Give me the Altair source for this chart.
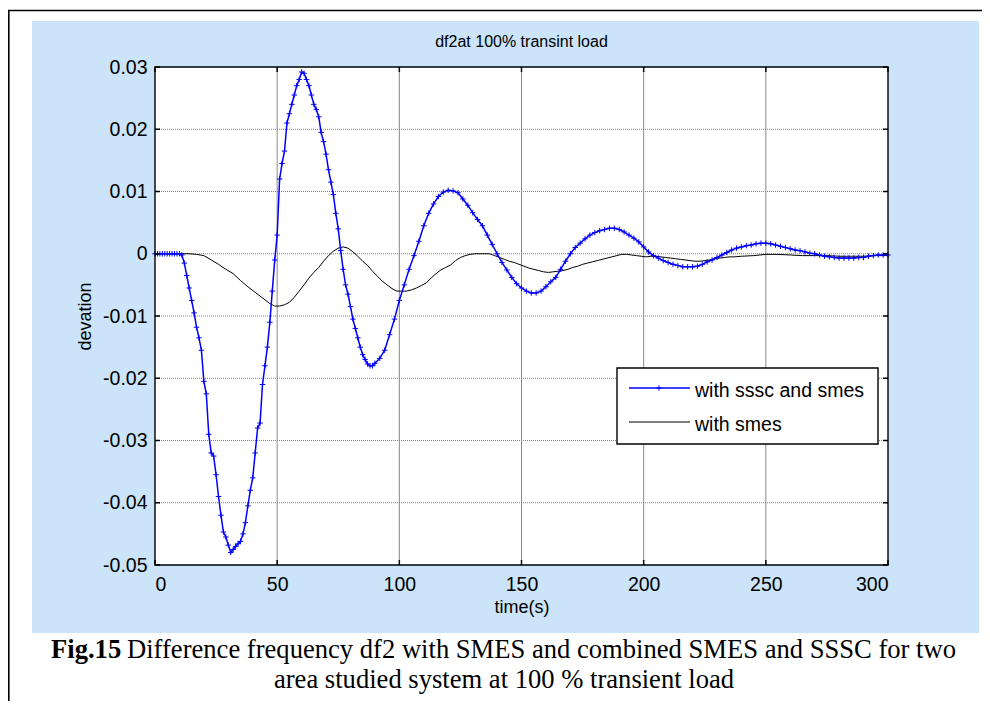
import altair as alt
import pandas as pd

# ---------------- data ----------------
t_blue = [0, 1, 2, 3, 4, 5, 6, 7, 8, 9, 10,
          11, 12, 13, 14, 15, 16, 17, 18, 19, 20,
          21, 22, 23, 24, 25, 26, 27, 28, 29, 30,
          31, 32, 33, 34, 35, 36, 37, 38, 39, 40,
          41, 42, 43, 44, 45, 46, 47, 48, 49, 50,
          51, 52, 53, 54, 55, 56, 57, 58, 59, 60,
          61, 62, 63, 64, 65, 66, 67, 68, 69, 70,
          71, 72, 73, 74, 75, 76, 77, 78, 79, 80,
          81, 82, 83, 84, 85, 86, 87, 88, 89, 90,
          92, 94, 96, 98, 100, 102, 104, 106, 108, 110,
          112, 114, 116, 118, 120, 122, 124, 126, 128, 130,
          132, 134, 136, 138, 140, 142, 144, 146, 148, 150,
          152, 154, 156, 158, 160, 162, 164, 166, 168, 170,
          172, 174, 176, 178, 180, 182, 184, 186, 188, 190,
          192, 194, 196, 198, 200, 202, 204, 206, 208, 210,
          212, 214, 216, 218, 220, 222, 224, 226, 228, 230,
          232, 234, 236, 238, 240, 242, 244, 246, 248, 250,
          252, 254, 256, 258, 260, 262, 264, 266, 268, 270,
          272, 274, 276, 278, 280, 282, 284, 286, 288, 290,
          292, 294, 296, 298, 300]
v_blue = [0, 0, 0, 0, 0, 0, 0, 0, 0, 0, 0,
          -0.0002, -0.0015, -0.0035, -0.0055, -0.0075, -0.0095, -0.0118, -0.0135, -0.0155, -0.0205,
          -0.0225, -0.029, -0.032, -0.0325, -0.0355, -0.039, -0.042, -0.0447, -0.0455, -0.0468,
          -0.048, -0.0475, -0.047, -0.0466, -0.0462, -0.045, -0.0432, -0.0405, -0.038, -0.036,
          -0.032, -0.028, -0.0272, -0.021, -0.018, -0.015, -0.011, -0.006, -0.001, 0.003,
          0.012, 0.0145, 0.0165, 0.021, 0.0225, 0.024, 0.0255, 0.027, 0.028, 0.0292,
          0.029, 0.028, 0.027, 0.0255, 0.024, 0.0232, 0.022, 0.0195, 0.018, 0.016,
          0.0135, 0.0115, 0.0095, 0.0065, 0.004, 0.0005, -0.0025, -0.005, -0.0065, -0.0085,
          -0.0105, -0.012, -0.0135, -0.015, -0.0162, -0.017, -0.0177, -0.018, -0.018, -0.0176,
          -0.0168, -0.0155, -0.013, -0.0105, -0.0075, -0.005, -0.0025, -0.0003, 0.002, 0.0045,
          0.0065, 0.008, 0.0092, 0.0099, 0.0102, 0.0101, 0.0098, 0.0088, 0.0078, 0.0066,
          0.0055, 0.0045, 0.003, 0.0015, 0.0, -0.0014, -0.0026, -0.0038, -0.0048, -0.0055,
          -0.006, -0.0063, -0.0063, -0.006, -0.0053, -0.0045, -0.0038, -0.0025, -0.0012, 0.0,
          0.001, 0.0017, 0.0024, 0.003, 0.0034, 0.0037, 0.0039, 0.0041, 0.0041, 0.0039,
          0.0035, 0.003, 0.0025, 0.0019, 0.0011, 0.0003, -0.0003, -0.0007, -0.0011, -0.0014,
          -0.0017, -0.0019, -0.0021, -0.0021, -0.0021, -0.002, -0.0017, -0.0013, -0.001, -0.0006,
          -0.0002, 0.0002, 0.0006, 0.0009, 0.0011, 0.0013, 0.0014, 0.0016, 0.0017, 0.0017,
          0.0016, 0.0014, 0.0012, 0.001, 0.0008, 0.0006, 0.0005, 0.0003, 0.0001, 0.0,
          -0.0002, -0.0004, -0.0005, -0.0006, -0.0007, -0.0007, -0.0007, -0.0007, -0.0006, -0.0006,
          -0.0004, -0.0003, -0.0002, -0.0002, -0.0002]

t_black = [0, 5, 10, 14, 17, 20, 23, 26, 29, 32, 35, 38, 41, 44, 47, 49, 51, 53, 55, 57,
           59, 61, 63, 65, 67, 69, 71, 73, 75, 77, 79, 81, 83, 85, 87, 89, 91, 93, 95, 97,
           99, 101, 103, 105, 107, 109, 111, 113, 115, 117, 119, 121, 123, 125, 127, 129, 131, 133, 135, 137,
           139, 141, 143, 145, 147, 149, 151, 153, 155, 157, 159, 161, 163, 165, 167, 169, 171, 173, 175, 177,
           179, 181, 183, 185, 187, 189, 191, 193, 195, 197, 199, 201, 203, 205, 207, 209, 211, 213, 215, 217,
           219, 221, 223, 225, 227, 229, 231, 233, 235, 237, 240, 245, 250, 255, 260, 265, 270, 275, 280, 285,
           290, 295, 300]
v_black = [0, 0, 0, 0, -0.0001, -0.0003, -0.001, -0.0017, -0.0025, -0.0032, -0.0043, -0.0053, -0.0062, -0.0071, -0.008, -0.0084, -0.0084, -0.0082, -0.0078, -0.007,
           -0.006, -0.005, -0.0039, -0.003, -0.0022, -0.0012, -0.0003, 0.0004, 0.0009, 0.0011, 0.0009, 0.0003, -0.0004, -0.0012, -0.0019, -0.0028, -0.0036, -0.0044, -0.005, -0.0056,
           -0.006, -0.006, -0.006, -0.0058, -0.0055, -0.0051, -0.0047, -0.0039, -0.0032, -0.0026, -0.0022, -0.0018, -0.0011, -0.0006, -0.0003, -0.0001, 0.0, 0.0, 0.0, 0.0,
           -0.0003, -0.0006, -0.0009, -0.0012, -0.0014, -0.0017, -0.002, -0.0023, -0.0025, -0.0027, -0.0029, -0.003, -0.0029, -0.0028, -0.0027, -0.0025, -0.0022, -0.002, -0.0017, -0.0015,
           -0.0013, -0.0011, -0.0009, -0.0007, -0.0005, -0.0003, -0.0001, -0.0001, -0.0002, -0.0003, -0.0004, -0.0005, -0.0004, -0.0004, -0.0005, -0.0006, -0.0007, -0.0008, -0.0009, -0.001,
           -0.0011, -0.0012, -0.0012, -0.0011, -0.001, -0.0008, -0.0007, -0.0006, -0.0005, -0.0005, -0.0004, -0.0003, -0.0001, -0.0001, -0.0002, -0.0003, -0.0003, -0.0003, -0.0004, -0.0004,
           -0.0004, -0.0003, -0.0003]

series_names = ["with sssc and smes", "with smes"]
x_ticks = [0, 50, 100, 150, 200, 250, 300]
y_ticks = [-0.05, -0.04, -0.03, -0.02, -0.01, 0, 0.01, 0.02, 0.03]
chart_title = "df2at 100% transint load"
x_title = "time(s)"
y_title = "devation"
caption_bold = "Fig.15"
caption_line1 = "Difference frequency df2 with SMES and combined SMES and SSSC for two"
caption_line2 = "area studied system at 100 % transient load"

# ---------------- layout ----------------
W, H = 733, 498
SANS = "Liberation Sans"
SERIF = "Liberation Serif"
BLUE = "#0000ff"
BG = "#cbe4f9"

df_blue = pd.DataFrame({"t": t_blue, "v": v_blue, "s": series_names[0]})
df_black = pd.DataFrame({"t": t_black, "v": v_black, "s": series_names[1]})
df_xt = pd.DataFrame({"t": x_ticks})
df_yt = pd.DataFrame({"v": y_ticks})
one = pd.DataFrame({"a": [0]})

xs = alt.Scale(domain=[0, 300], nice=False, zero=False)
ys = alt.Scale(domain=[-0.05, 0.03], nice=False, zero=False)

X_AX = alt.Axis(values=x_ticks, ticks=False, grid=False, domain=False, format="d",
                labelFont=SANS, labelFontSize=19.5, labelColor="black", labelPadding=10,
                title=x_title, titleFont=SANS, titleFontSize=18, titleFontWeight="normal",
                titleColor="black", titleX=W / 2, titleY=42, titleBaseline="middle",
                titleAlign="center", zindex=1)
Y_AX = alt.Axis(values=y_ticks, ticks=False, grid=False, domain=False,
                labelExpr="datum.value == 0 ? '0' : replace(format(datum.value, '.2f'), '\u2212', '-')",
                labelFont=SANS, labelFontSize=19.5, labelColor="black", labelPadding=8,
                title=y_title, titleFont=SANS, titleFontSize=18, titleFontWeight="normal",
                titleColor="black", titleX=-70, titleY=H / 2, titleAngle=270,
                titleBaseline="middle", titleAlign="center", zindex=1)

X = alt.X("t:Q", scale=xs, axis=X_AX)
Y = alt.Y("v:Q", scale=ys, axis=Y_AX)

# outer figure (blue) background
blue_bg = alt.Chart(one).mark_rect(color=BG).encode(
    x=alt.value(-123), x2=alt.value(824), y=alt.value(-46), y2=alt.value(566))
# outer page border
outer = alt.Chart(one).mark_rect(fillOpacity=0, stroke="black", strokeWidth=1.6).encode(
    x=alt.value(-146.2), x2=alt.value(1000), y=alt.value(-56.5), y2=alt.value(800))
# plot area
plot_bg = alt.Chart(one).mark_rect(color="white").encode(
    x=alt.value(0), x2=alt.value(W), y=alt.value(0), y2=alt.value(H))

vgrid = alt.Chart(df_xt).transform_filter("datum.t > 0 && datum.t < 300").mark_rule(
    color="#8a8a8a", strokeWidth=1).encode(x=X)
hgrid = alt.Chart(df_yt).transform_filter("datum.v > -0.05 && datum.v < 0.03").mark_rule(
    color="#808080", strokeWidth=1, strokeDash=[1, 1]).encode(y=Y)

# inward ticks on all four sides
yt_left = alt.Chart(df_yt).mark_rule(color="black", strokeWidth=1.5).encode(
    y=Y, x=alt.value(0), x2=alt.value(5))
yt_right = alt.Chart(df_yt).mark_rule(color="black", strokeWidth=1.5).encode(
    y=Y, x=alt.value(W - 5), x2=alt.value(W))
xt_bot = alt.Chart(df_xt).mark_rule(color="black", strokeWidth=1.5).encode(
    x=X, y=alt.value(H - 5), y2=alt.value(H))
xt_top = alt.Chart(df_xt).mark_rule(color="black", strokeWidth=1.5).encode(
    x=X, y=alt.value(0), y2=alt.value(5))

line_black = alt.Chart(df_black).mark_line(color="black", strokeWidth=1).encode(x=X, y=Y)
line_blue = alt.Chart(df_blue).mark_line(color=BLUE, strokeWidth=1.5).encode(x=X, y=Y)
marks_blue = alt.Chart(df_blue).mark_point(shape="M-1,0H1M0,-1V1", filled=False, size=30,
                                           color=BLUE, strokeWidth=1, opacity=1).encode(x=X, y=Y)

frame = alt.Chart(one).mark_rect(fillOpacity=0, stroke="black", strokeWidth=1.4).encode(
    x=alt.value(0), x2=alt.value(W), y=alt.value(0), y2=alt.value(H))


def text_layer(txt, x, y, **kw):
    return alt.Chart(pd.DataFrame({"s": [txt]})).mark_text(**kw).encode(
        text="s:N", x=alt.value(x), y=alt.value(y))


title_l = text_layer(chart_title, W / 2, -25, font=SANS, fontSize=16, color="black",
                     align="center", baseline="middle")

# legend (manual MATLAB-style box)
leg_box = alt.Chart(one).mark_rect(fill="white", stroke="black", strokeWidth=1.4).encode(
    x=alt.value(462), x2=alt.value(723), y=alt.value(301), y2=alt.value(377))
leg_l1 = alt.Chart(one).mark_rule(color=BLUE, strokeWidth=1.4).encode(
    x=alt.value(474), x2=alt.value(535), y=alt.value(321))
leg_m1 = alt.Chart(one).mark_point(shape="M-1,0H1M0,-1V1", filled=False, size=30,
                                   color=BLUE, strokeWidth=1, opacity=1).encode(
    x=alt.value(504), y=alt.value(321))
leg_l2 = alt.Chart(one).mark_rule(color="black", strokeWidth=1).encode(
    x=alt.value(474), x2=alt.value(535), y=alt.value(355))
leg_t1 = text_layer(series_names[0], 540, 324, font=SANS, fontSize=19.5, color="black",
                    align="left", baseline="middle")
leg_t2 = text_layer(series_names[1], 540, 358, font=SANS, fontSize=19.5, color="black",
                    align="left", baseline="middle")

# caption
cap_b = text_layer(caption_bold, -104, 591, font=SERIF, fontSize=26.6, fontWeight="bold",
                   color="black", align="left", baseline="alphabetic")
cap_1 = text_layer(caption_line1, -28, 591, font=SERIF, fontSize=26.6, color="black",
                   align="left", baseline="alphabetic")
cap_2 = text_layer(caption_line2, 349, 621, font=SERIF, fontSize=26.6, color="black",
                   align="center", baseline="alphabetic")

chart = alt.layer(
    blue_bg, outer, plot_bg, vgrid, hgrid, line_black, line_blue, marks_blue,
    yt_left, yt_right, xt_bot, xt_top, frame, title_l,
    leg_box, leg_l1, leg_m1, leg_l2, leg_t1, leg_t2,
    cap_b, cap_1, cap_2,
).properties(
    width=W, height=H,
    autosize=alt.AutoSizeParams(type="none"),
    padding={"left": 147, "top": 59, "right": 94, "bottom": 136},
).configure(background="white").configure_view(stroke=None)

chart.save("out.html", embed_options={"renderer": "svg", "actions": False})
